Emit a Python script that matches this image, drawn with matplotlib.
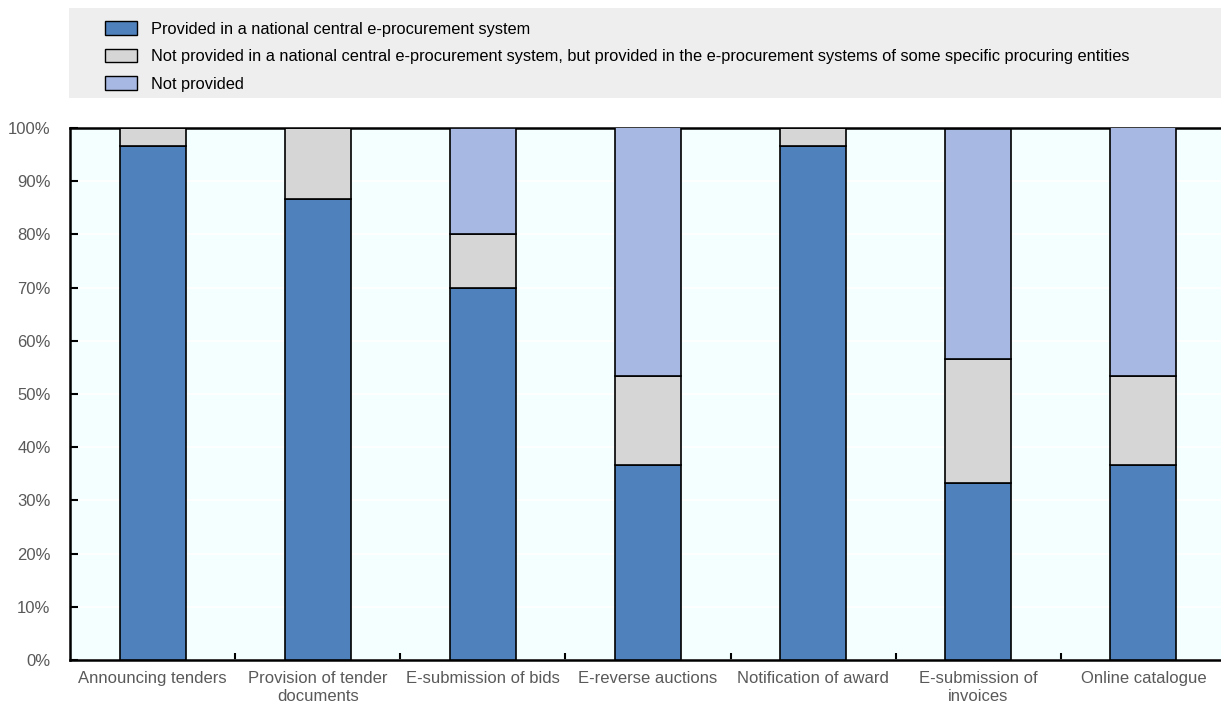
import matplotlib
matplotlib.use("Agg")
import matplotlib.pyplot as plt
from matplotlib.patches import Rectangle, Patch
import numpy as np

plt.rcParams['font.family'] = ['Liberation Sans', 'DejaVu Sans']

categories = ["Announcing tenders", "Provision of tender\ndocuments", "E-submission of bids",
              "E-reverse auctions", "Notification of award", "E-submission of\ninvoices",
              "Online catalogue"]
provided_central = [96.7, 86.7, 70.0, 36.7, 96.7, 33.3, 36.7]
provided_specific = [3.3, 13.3, 10.0, 16.7, 3.3, 23.3, 16.7]
not_provided = [0.0, 0.0, 20.0, 46.7, 0.0, 43.3, 46.7]

series_labels = [
    "Provided in a national central e-procurement system",
    "Not provided in a national central e-procurement system, but provided in the e-procurement systems of some specific procuring entities",
    "Not provided",
]
colors = ["#4F81BD", "#D6D6D6", "#A7B8E2"]

fig = plt.figure(figsize=(12.21, 7.07), dpi=100)
ax = fig.add_axes([70 / 1221, 1 - 660 / 707, 1 - 70 / 1221, 532 / 707])
ax.set_facecolor("#F4FFFF")

x = np.arange(len(categories))
width = 0.4
bottom = np.zeros(len(categories))
for vals, col in zip([provided_central, provided_specific, not_provided], colors):
    vals = np.array(vals)
    ax.bar(x, vals, width, bottom=bottom, color=col, edgecolor="black", linewidth=1.2, zorder=3)
    bottom += vals

ax.set_xlim(-0.5, 6.47)
ax.set_ylim(0, 100)
ax.set_yticks(np.arange(0, 101, 10))
ax.set_yticklabels([f"{v}%" for v in range(0, 101, 10)])
ax.yaxis.grid(True, color="white", linewidth=1.2, zorder=0)
ax.set_axisbelow(True)

ax.set_xticks(x)
ax.set_xticklabels(categories)
ax.set_xticks(np.arange(0.5, len(categories) - 1, 1), minor=True)
ax.tick_params(axis="x", which="major", length=0, pad=8, labelsize=12, labelcolor="#595959")
ax.tick_params(axis="x", which="minor", direction="in", length=5, width=1.5, color="black")
ax.tick_params(axis="y", direction="in", length=6, width=1.5, pad=14, labelsize=12,
               labelcolor="#595959", color="black")
for lbl in ax.get_xticklabels():
    lbl.set_linespacing(1.25)

for side in ["left", "bottom", "top"]:
    ax.spines[side].set_linewidth(1.8)
    ax.spines[side].set_color("black")
ax.spines["right"].set_visible(False)

# legend panel
fig.patches.append(Rectangle((69 / 1221, 1 - 98 / 707), 1 - 69 / 1221, 90 / 707,
                             transform=fig.transFigure, facecolor="#EEEEEE",
                             edgecolor="none", zorder=0))
handles = [Patch(facecolor=c, edgecolor="black", linewidth=1.0) for c in colors]
fig.legend(handles, series_labels, loc="upper left", bbox_to_anchor=(105 / 1221, 1 - 21 / 707),
           frameon=False, fontsize=11.8, handlelength=1.95, handleheight=0.92,
           labelspacing=0.74, handletextpad=0.85, borderaxespad=0, borderpad=0)

fig.savefig("out.png", dpi=100)
